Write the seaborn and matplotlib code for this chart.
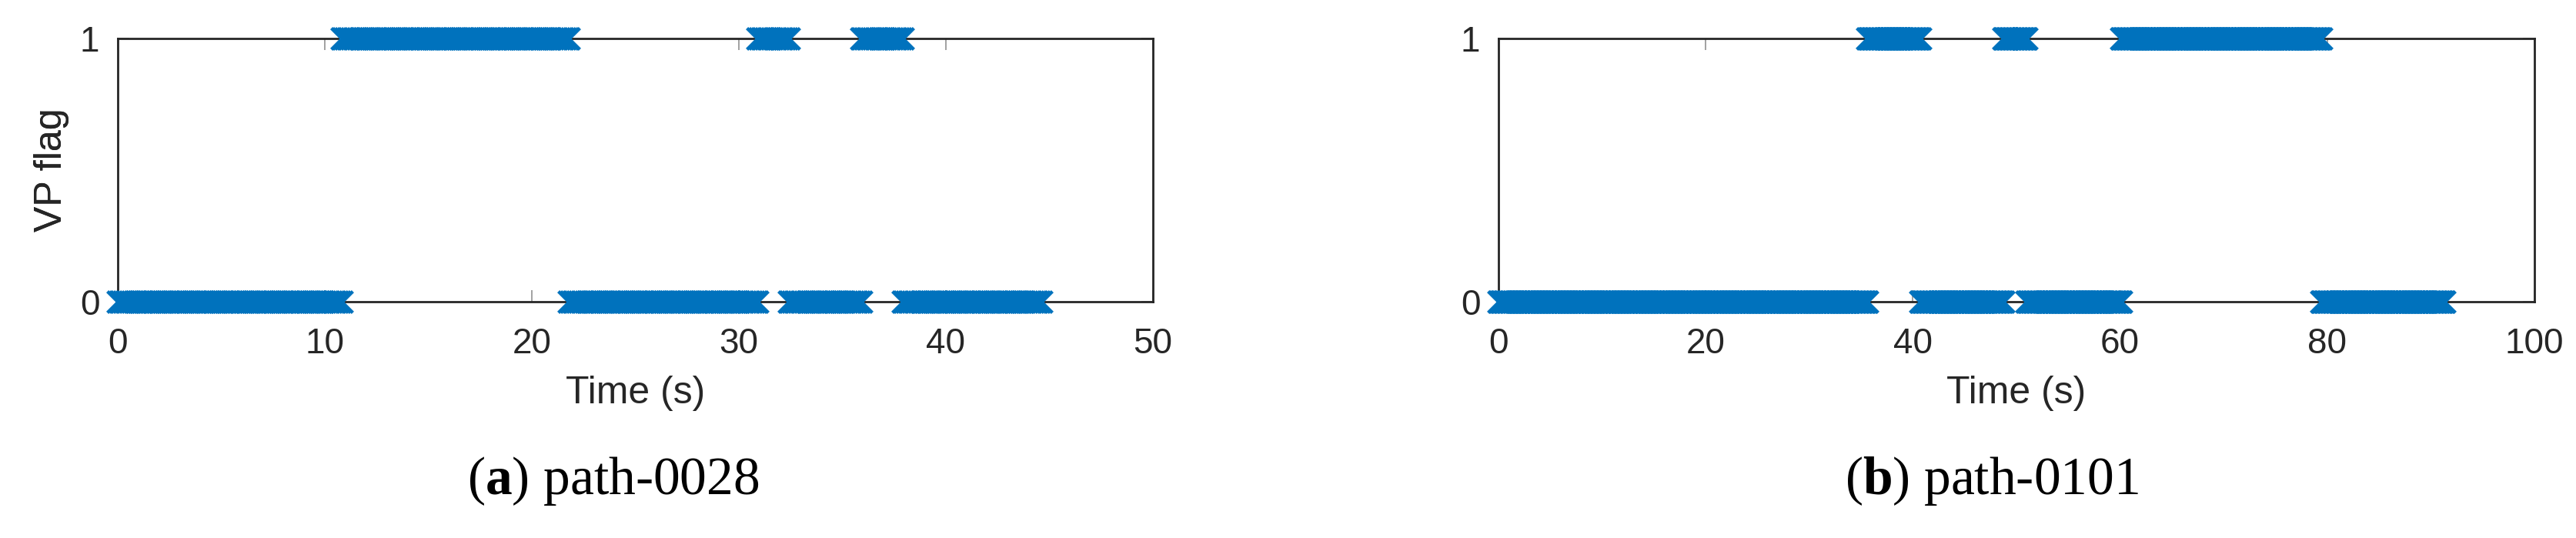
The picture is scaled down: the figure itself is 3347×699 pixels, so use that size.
import numpy as np
import pandas as pd
import matplotlib
matplotlib.use('Agg')
import matplotlib.pyplot as plt
import seaborn as sns

# VP flag switch times (s); flag holds between switches
path28_switch_t = [0.0, 10.8, 21.8, 30.9, 32.4, 35.9, 37.9, 44.6]
path28_flags = [0, 1, 0, 1, 0, 1, 0]
path101_switch_t = [0.0, 35.6, 40.7, 48.7, 51.0, 60.1, 79.4, 91.3]
path101_flags = [0, 1, 0, 1, 0, 1, 0]
SAMPLE_DT = 0.1  # sampling period of the flag log

xlims = [50, 100]
xticks = [[0, 10, 20, 30, 40, 50], [0, 20, 40, 60, 80, 100]]
captions = ['path-0028', 'path-0101']
letters = ['a', 'b']

sns.set_theme(style='white')
plt.rcParams['font.family'] = ['Liberation Sans', 'DejaVu Sans']
plt.rcParams['mathtext.fontset'] = 'custom'
plt.rcParams['mathtext.rm'] = 'Liberation Serif'
plt.rcParams['mathtext.bf'] = 'Liberation Serif:bold'

BLUE = '#0072BD'
DARK = '#262626'


def expand(switch_t, flags):
    t, f = [], []
    for i, fl in enumerate(flags):
        seg = np.arange(switch_t[i], switch_t[i + 1] + 1e-9, SAMPLE_DT)
        t.append(seg)
        f.append(np.full(len(seg), fl))
    return pd.DataFrame({'t': np.concatenate(t), 'flag': np.concatenate(f)})


data = [expand(path28_switch_t, path28_flags), expand(path101_switch_t, path101_flags)]

fig = plt.figure(figsize=(33.47, 6.99), dpi=100)
W, H = 3347, 699
boxes = [(153, 1498), (1947, 3293)]
top, bot = 50, 392
caption_x = [797, 2588]

for k in range(2):
    l, r = boxes[k]
    ax = fig.add_axes([l / W, (H - bot) / H, (r - l) / W, (bot - top) / H])
    sns.scatterplot(data=data[k], x='t', y='flag', marker='x', s=400, linewidth=3.2,
                    color=BLUE, ax=ax, clip_on=False, zorder=3, legend=False)
    ax.set_xlim(0, xlims[k])
    ax.set_ylim(0, 1)
    ax.set_xticks(xticks[k])
    ax.set_yticks([0, 1])
    for s in ax.spines.values():
        s.set_visible(True)
        s.set_color(DARK)
        s.set_linewidth(2.0)
    ax.tick_params(axis='both', direction='in', length=11, width=1.3, color='#9a9a9a',
                   labelsize=33, labelcolor=DARK, top=True, right=True, bottom=True, left=True)
    ax.tick_params(axis='x', pad=24)
    ax.tick_params(axis='y', pad=17)
    ax.set_xlabel('Time (s)', fontsize=36, color=DARK)
    ax.set_ylabel('VP flag', fontsize=36, color=DARK)
    ax.xaxis.set_label_coords(0.5, (bot - 488) / (bot - top))
    ax.yaxis.set_label_coords((90 - l) / (r - l), 0.5)
    fig.text(caption_x[k] / W, (H - 642) / H,
             r'$(\mathbf{%s})$ ' % letters[k] + captions[k],
             fontsize=50, family='Liberation Serif', ha='center', va='baseline', color='black')

fig.savefig('out.png', dpi=100, facecolor='white')
